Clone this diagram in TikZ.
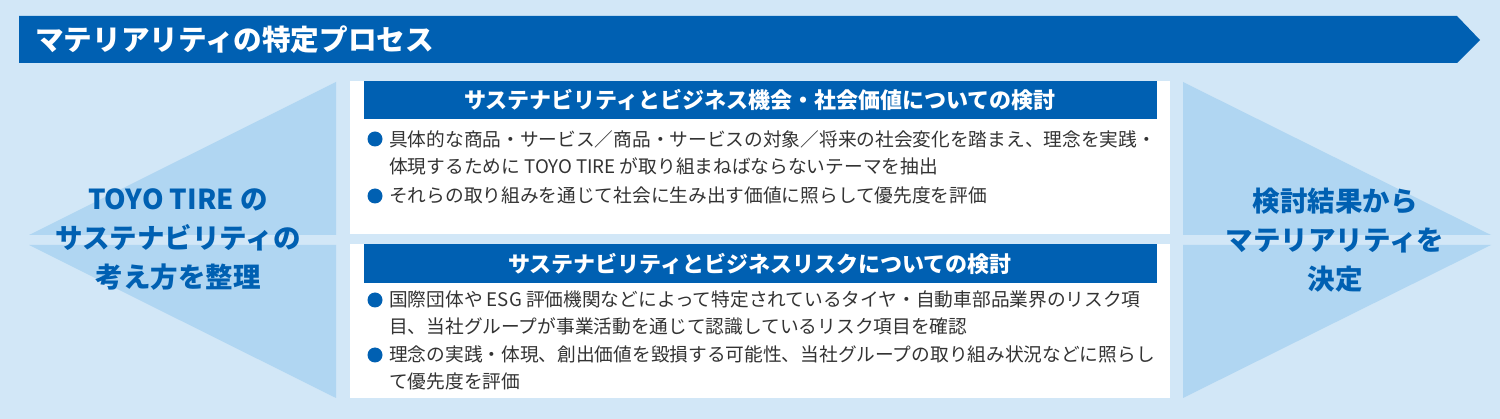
\documentclass[tikz,border=0pt]{standalone}
\usepackage{fontspec}
\setmainfont{Noto Sans CJK JP}
\usetikzlibrary{positioning}
\definecolor{bgblue}{HTML}{D2E7F7}
\definecolor{triblue}{HTML}{B0D6F2}
\definecolor{deepblue}{HTML}{0060B2}
\definecolor{bodygray}{HTML}{333333}
\begin{document}
\begin{tikzpicture}[x=1pt, y=-1pt,
  panel/.style = {fill=white, inner sep=0, anchor=north west, minimum width=820},
  head/.style = {fill=deepblue, text=white, inner sep=0, anchor=north, minimum width=793, font=\bfseries\fontsize{22}{26}\selectfont},
  item/.style = {text=bodygray, align=left, inner sep=0, anchor=north west, font=\fontsize{18.7}{27}\selectfont},
  dot/.style = {circle, fill=deepblue, inner sep=0, minimum size=15},
  side/.style = {text=deepblue, align=center, inner sep=0, font=\bfseries\fontsize{27.5}{39}\selectfont}]
\fill[bgblue] (0,0) rectangle (1500,419);

% banner
\fill[deepblue] (19,16) -- (1457,16) -- (1480,40) -- (1457,63) -- (19,63) -- cycle;
\node[text=white, inner sep=0, anchor=west, font=\bfseries\fontsize{28.6}{32}\selectfont] (title) at (35,40) {マテリアリティの特定プロセス};

% side wedges
\fill[triblue] (29,235) -- (336,82) -- (336,235) -- cycle;
\fill[triblue] (29,245) -- (336,245) -- (336,398) -- cycle;
\fill[triblue] (1183,82) -- (1491,235) -- (1183,235) -- cycle;
\fill[triblue] (1183,245) -- (1491,245) -- (1183,398) -- cycle;
\node[side] (left) at (178,240) {TOYO TIRE の\\サステナビリティの\\考え方を整理};
\node[side] (right) at (1335,240) {検討結果から\\マテリアリティを\\決定};

% opportunity panel
\node[panel, minimum height=153] (opp) at (350,81) {};
\node[head, minimum height=38] (opphead) at (opp.north) {サステナビリティとビジネス機会・社会価値についての検討};
\node[item] (opp1) at (389,130) {具体的な商品・サービス／商品・サービスの対象／将来の社会変化を踏まえ、理念を実践・\\体現するために TOYO TIRE が取り組まねばならないテーマを抽出};
\node[item] (opp2) at (389,187) {それらの取り組みを通じて社会に生み出す価値に照らして優先度を評価};
\node[dot] (oppdot1) at (375,139) {};
\node[dot] (oppdot2) at (375,196) {};

% risk panel
\node[panel, minimum height=154] (risk) at (350,244) {};
\node[head, minimum height=39] (riskhead) at (risk.north) {サステナビリティとビジネスリスクについての検討};
\node[item] (risk1) at (389,291) {国際団体や ESG 評価機関などによって特定されているタイヤ・自動車部品業界のリスク項\\目、当社グループが事業活動を通じて認識しているリスク項目を確認};
\node[item] (risk2) at (389,346) {理念の実践・体現、創出価値を毀損する可能性、当社グループの取り組み状況などに照らし\\て優先度を評価};
\node[dot] (riskdot1) at (375,300) {};
\node[dot] (riskdot2) at (375,355) {};
\end{tikzpicture}
\end{document}
